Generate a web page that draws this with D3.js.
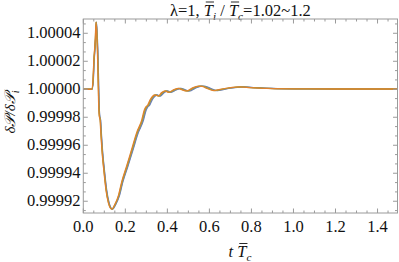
<!DOCTYPE html>
<html><head><meta charset="utf-8">
<script src="https://cdn.jsdelivr.net/npm/d3@7"></script>
<style>body{margin:0;background:#fff}svg{display:block}svg text{font-family:'Liberation Serif','Times New Roman',serif}</style>
</head><body><svg id="c" width="399" height="262" font-family="'Liberation Serif','Times New Roman',serif">
<text id="title" x="240.4" y="15.5" text-anchor="middle" font-family="'Liberation Serif','Times New Roman',serif" font-size="16.5" fill="#111">λ=1, <tspan font-style="italic">T</tspan><tspan font-style="italic" font-size="11.2" dy="4">i</tspan><tspan dy="-4"> / </tspan><tspan font-style="italic">T</tspan><tspan font-style="italic" font-size="11.2" dy="4">c</tspan><tspan dy="-4">=1.02~1.2</tspan></text>
<text id="xlab" x="240" y="257" text-anchor="middle" font-family="'Liberation Serif','Times New Roman',serif" font-size="16.5" fill="#111"><tspan font-style="italic">t T</tspan><tspan font-style="italic" font-size="11.2" dy="4">c</tspan></text>
<text id="ylab" transform="translate(15,112) rotate(-90)" text-anchor="middle" font-family="'Liberation Serif','Times New Roman',serif" font-size="15" fill="#111"><tspan font-style="italic">δ𝒫/δ𝒫</tspan><tspan font-style="italic" font-size="10.2" dy="4">i</tspan></text>
</svg>
<script>
// ---- data ----
const times = [0, 0.04, 0.046, 0.05, 0.054, 0.057, 0.0605, 0.064, 0.067, 0.07, 0.073, 0.076, 0.08, 0.083, 0.09, 0.097,
  0.108, 0.119, 0.135, 0.151, 0.167, 0.183, 0.206, 0.23, 0.254, 0.278, 0.29, 0.298, 0.306, 0.318, 0.326, 0.341,
  0.357, 0.373, 0.389, 0.405, 0.429, 0.452, 0.469, 0.492, 0.516, 0.548, 0.565, 0.588, 0.619, 0.651, 0.699, 0.746,
  0.794, 0.873, 1.0, 1.2, 1.5];
const ratio = [1.0, 1.0, 1.000006, 1.00002, 1.000029, 1.000036, 1.000048, 1.00004, 1.000028, 1.00001, 0.99999, 0.999981,
  0.999978, 0.99997, 0.999954, 0.999943, 0.999928, 0.999919, 0.9999143, 0.999918, 0.999924, 0.999934, 0.999945,
  0.999957, 0.999969, 0.999978, 0.999985, 0.9999875, 0.9999885, 0.9999924, 0.9999943, 0.9999959, 0.9999952,
  0.9999976, 0.9999988, 0.9999978, 0.9999995, 1.0000007, 0.9999997, 0.9999988, 1.0000007, 1.0000022, 1.000002,
  1.0000007, 0.999999, 1.0, 1.0000012, 1.0000017, 1.0000012, 1.0000006, 1.0000003, 1.0000002, 1.0000002];
const seriesNames = ["Ti/Tc=1.2", "Ti/Tc=1.14", "Ti/Tc=1.08", "Ti/Tc=1.02"];
const seriesColors = ["#5E81B5", "#8778B3", "#8FB032", "#E0812F"];
const seriesLag = [0.03, 0.02, 0.01, 0.0];
const xTicks = [0, 0.2, 0.4, 0.6, 0.8, 1.0, 1.2, 1.4];
const xTickLabels = ["0.0", "0.2", "0.4", "0.6", "0.8", "1.0", "1.2", "1.4"];
const yTicks = [0.99992, 0.99994, 0.99996, 0.99998, 1.0, 1.00002, 1.00004];
const yTickLabels = ["0.99992", "0.99994", "0.99996", "0.99998", "1.00000", "1.00002", "1.00004"];

(function () {
const mL = 83.3, mR = 397.5, mT = 19, mB = 213;
const FONT = "'Liberation Serif', 'Times New Roman', serif";
const svg = d3.select("#c");
const x = d3.scaleLinear().domain([0, 1.495]).range([mL, mR]);
const y = d3.scaleLinear().domain([0.9999116, 1.0000502]).range([mB, mT]);
const frameColor = "#9a9a9a";

svg.append("clipPath").attr("id", "clip").append("rect")
  .attr("x", mL).attr("y", mT).attr("width", mR - mL).attr("height", mB - mT);
const line = d3.line().x(d => x(d[0])).y(d => y(d[1])).curve(d3.curveMonotoneX);
const plot = svg.append("g").attr("clip-path", "url(#clip)");
seriesColors.forEach((col, k) => {
  const pts = times.map((t, i) => [t * (1 + seriesLag[k]), ratio[i]]);
  plot.append("path").attr("d", line(pts)).attr("fill", "none")
    .attr("stroke", col).attr("stroke-width", 1.3).attr("stroke-linejoin", "round");
});

svg.append("rect").attr("x", mL).attr("y", mT).attr("width", mR - mL).attr("height", mB - mT)
  .attr("fill", "none").attr("stroke", frameColor).attr("stroke-width", 1);

const gT = svg.append("g").attr("stroke", frameColor).attr("stroke-width", 1);
d3.range(0, 30).forEach(i => {
  const px = x(i * 0.05);
  const L = (i % 4 === 0) ? 4.5 : 2.5;
  gT.append("line").attr("x1", px).attr("x2", px).attr("y1", mB).attr("y2", mB - L);
  gT.append("line").attr("x1", px).attr("x2", px).attr("y1", mT).attr("y2", mT + L);
});
const yStep = 0.00002 / 3;
for (let i = -2; i <= 23; i++) {
  const py = y(0.99992 + i * yStep);
  if (py < mT - 0.1 || py > mB + 0.1) continue;
  const L = (i % 3 === 0) ? 4.5 : 2.5;
  gT.append("line").attr("x1", mL).attr("x2", mL + L).attr("y1", py).attr("y2", py);
  gT.append("line").attr("x1", mR).attr("x2", mR - L).attr("y1", py).attr("y2", py);
}

const gl = svg.append("g").attr("fill", "#111").attr("font-family", FONT).attr("font-size", 16.5);
xTicks.forEach((v, i) => gl.append("text").attr("x", x(v)).attr("y", 232).attr("text-anchor", "middle").text(xTickLabels[i]));
yTicks.forEach((v, i) => gl.append("text").attr("x", 80.5).attr("y", y(v) + 5).attr("text-anchor", "end").text(yTickLabels[i]));

// overbars on the T characters
function bar(id, ci) {
  const node = document.getElementById(id);
  const e = node.getExtentOfChar(ci);
  svg.append("line").attr("x1", e.x + 2).attr("x2", e.x + e.width + 1)
    .attr("y1", e.y + 1.5).attr("y2", e.y + 1.5).attr("stroke", "#111").attr("stroke-width", 0.9);
}
bar("title", 5); bar("title", 10); bar("xlab", 2);
})();
</script></body></html>
